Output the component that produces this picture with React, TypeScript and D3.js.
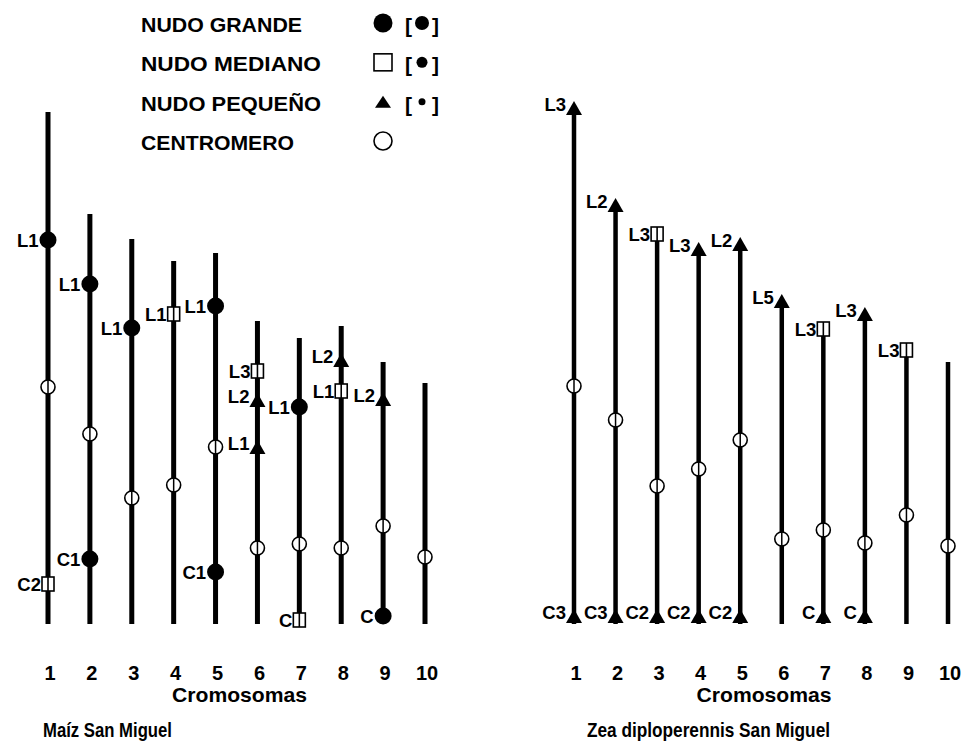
import React from "react";
import * as d3 from "d3";

// ---------- data ----------
const chromosomes = [1, 2, 3, 4, 5, 6, 7, 8, 9, 10];
const tickLabels = ["1", "2", "3", "4", "5", "6", "7", "8", "9", "10"];

// Maíz San Miguel (positions measured from the chromosome base, arbitrary units)
const maizLength = [512, 410, 385, 363, 371, 303, 286, 298, 262, 241];
const maizCentromere = [237, 190, 126, 139, 177, 76, 80, 76, 98, 67];
const maizKnobChrom = [1, 1, 2, 2, 3, 4, 5, 5, 6, 6, 6, 7, 7, 8, 8, 9, 9];
const maizKnobPos = [384, 40, 340, 65, 296, 310, 318, 52, 253, 224, 177, 217, 4, 264, 233, 225, 8];
const maizKnobType = ["G", "M", "G", "G", "G", "M", "G", "G", "M", "P", "P", "G", "M", "P", "M", "P", "G"];
const maizKnobLabel = ["L1", "C2", "L1", "C1", "L1", "L1", "L1", "C1", "L3", "L2", "L1", "L1", "C", "L2", "L1", "L2", "C"];

// Zea diploperennis San Miguel
const zeaLength = [516, 419, 390, 375, 380, 323, 295, 310, 274, 262];
const zeaCentromere = [238, 204, 138, 155, 184, 85, 94, 81, 109, 78];
const zeaKnobChrom = [1, 1, 2, 2, 3, 3, 4, 4, 5, 5, 6, 7, 7, 8, 8, 9];
const zeaKnobPos = [516, 8, 419, 8, 390, 8, 375, 8, 380, 8, 323, 295, 8, 310, 8, 274];
const zeaKnobType = ["P", "P", "P", "P", "M", "P", "P", "P", "P", "P", "P", "M", "P", "P", "P", "M"];
const zeaKnobLabel = ["L3", "C3", "L2", "C3", "L3", "C2", "L3", "C2", "L2", "C2", "L5", "L3", "C", "L3", "C", "L3"];

// legend
const legendLabels = ["NUDO GRANDE", "NUDO MEDIANO", "NUDO PEQUEÑO", "CENTROMERO"];
const legendTypes = ["G", "M", "P", "O"];
const legendDots = [7, 5.5, 3.5, 0];
const legendWidths = [161, 180, 180, 153];

const axisTitle = "Cromosomas";
const panelTitles = ["Maíz San Miguel", "Zea diploperennis San Miguel"];

const FONT = "'Liberation Sans', Arial, Helvetica, sans-serif";

const yScale = d3.scaleLinear().domain([0, 520]).range([624, 104]);

function Marker({ type, cx, cy, big = false }: { type: string; cx: number; cy: number; big?: boolean }) {
  if (type === "G") {
    return <circle cx={cx} cy={cy} r={big ? 9.5 : 8.5} fill="#000" />;
  }
  if (type === "M") {
    const w = big ? 18 : 12;
    const h = big ? 17 : 14;
    return (
      <g>
        <rect x={cx - w / 2} y={cy - h / 2} width={w} height={h} fill="#fff" stroke="#000" strokeWidth={1.6} />
        {!big && <line x1={cx} x2={cx} y1={cy - h / 2} y2={cy + h / 2} stroke="#000" strokeWidth={1.6} />}
      </g>
    );
  }
  if (type === "P") {
    const w = 16;
    const h = big ? 12 : 14;
    const p = d3.path();
    p.moveTo(cx, cy - h / 2);
    p.lineTo(cx + w / 2, cy + h / 2);
    p.lineTo(cx - w / 2, cy + h / 2);
    p.closePath();
    return <path d={p.toString()} fill="#000" />;
  }
  // centromere
  return (
    <g>
      <circle cx={cx} cy={cy} r={big ? 9 : 7} fill="#fff" stroke="#000" strokeWidth={1.6} />
      {!big && <line x1={cx} x2={cx} y1={cy - 7} y2={cy + 7} stroke="#000" strokeWidth={1.5} />}
    </g>
  );
}

const halfWidth: Record<string, number> = { G: 8.5, M: 6, P: 8 };

function Panel(props: {
  range: [number, number];
  lineWidth: number;
  lengths: number[];
  centromeres: number[];
  knobChrom: number[];
  knobPos: number[];
  knobType: string[];
  knobLabel: string[];
  title: string;
  titleX: number;
  titleWidth: number;
}) {
  const x = d3.scalePoint<number>().domain(chromosomes).range(props.range);
  const mid = (props.range[0] + props.range[1]) / 2;
  return (
    <g>
      {chromosomes.map((c, i) => (
        <line
          key={"l" + c}
          x1={x(c)}
          x2={x(c)}
          y1={yScale(0)}
          y2={yScale(props.lengths[i])}
          stroke="#000"
          strokeWidth={props.lineWidth}
        />
      ))}
      {chromosomes.map((c, i) => (
        <Marker key={"c" + c} type="O" cx={x(c)!} cy={yScale(props.centromeres[i])} />
      ))}
      {props.knobChrom.map((c, i) => {
        const t = props.knobType[i];
        const cx = x(c)!;
        const cy = yScale(props.knobPos[i]);
        const tx = t === "P" ? cx - 8 : cx - halfWidth[t] - 1;
        const ty = t === "P" ? cy + 3 : cy + 6.5;
        return (
          <g key={"k" + i}>
            <Marker type={t} cx={cx} cy={cy} />
            <text x={tx} y={ty} textAnchor="end" fontFamily={FONT} fontWeight="bold" fontSize={18.5} fill="#000">
              {props.knobLabel[i]}
            </text>
          </g>
        );
      })}
      {chromosomes.map((c, i) => (
        <text
          key={"t" + c}
          x={x(c)! + 2}
          y={680}
          textAnchor="middle"
          fontFamily={FONT}
          fontWeight="bold"
          fontSize={20}
          fill="#000"
        >
          {tickLabels[i]}
        </text>
      ))}
      <text
        x={mid + 3}
        y={702}
        textAnchor="middle"
        fontFamily={FONT}
        fontWeight="bold"
        fontSize={21}
        textLength={135}
        lengthAdjust="spacingAndGlyphs"
        fill="#000"
      >
        {axisTitle}
      </text>
      <text
        x={props.titleX}
        y={737}
        fontFamily={FONT}
        fontWeight="bold"
        fontSize={21}
        textLength={props.titleWidth}
        lengthAdjust="spacingAndGlyphs"
        fill="#000"
      >
        {props.title}
      </text>
    </g>
  );
}

function Legend() {
  const rowY = d3.scaleLinear().domain([0, 3]).range([32, 150]);
  return (
    <g>
      {legendLabels.map((lab, i) => {
        const by = rowY(i);
        const my = by - 9;
        return (
          <g key={lab}>
            <text
              x={141}
              y={by}
              fontFamily={FONT}
              fontWeight="bold"
              fontSize={21}
              textLength={legendWidths[i]}
              lengthAdjust="spacingAndGlyphs"
              fill="#000"
            >
              {lab}
            </text>
            <Marker type={legendTypes[i]} cx={383} cy={my} big />
            {legendDots[i] > 0 && (
              <g>
                <text x={405} y={by + 1} fontFamily={FONT} fontWeight="bold" fontSize={21} fill="#000">
                  [
                </text>
                <circle cx={422} cy={my} r={legendDots[i]} fill="#000" />
                <text x={432} y={by + 1} fontFamily={FONT} fontWeight="bold" fontSize={21} fill="#000">
                  ]
                </text>
              </g>
            )}
          </g>
        );
      })}
    </g>
  );
}

export default function App() {
  return (
    <svg
      width={962}
      height={755}
      viewBox="0 0 962 755"
      style={{ position: "absolute", left: 0, top: 0, background: "#fff" }}
    >
      <rect width={962} height={755} fill="#fff" />
      <Legend />
      <Panel
        range={[48, 425]}
        lineWidth={5}
        lengths={maizLength}
        centromeres={maizCentromere}
        knobChrom={maizKnobChrom}
        knobPos={maizKnobPos}
        knobType={maizKnobType}
        knobLabel={maizKnobLabel}
        title={panelTitles[0]}
        titleX={43}
        titleWidth={129}
      />
      <Panel
        range={[574, 948]}
        lineWidth={4.5}
        lengths={zeaLength}
        centromeres={zeaCentromere}
        knobChrom={zeaKnobChrom}
        knobPos={zeaKnobPos}
        knobType={zeaKnobType}
        knobLabel={zeaKnobLabel}
        title={panelTitles[1]}
        titleX={587}
        titleWidth={243}
      />
    </svg>
  );
}
